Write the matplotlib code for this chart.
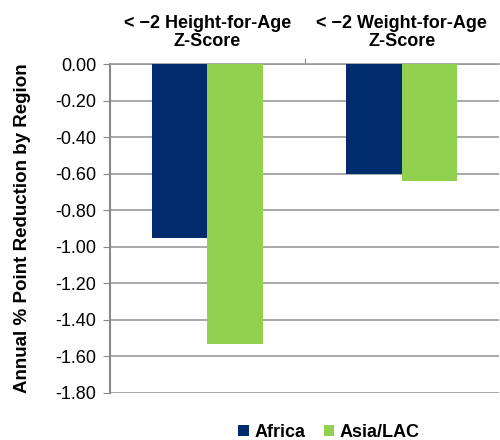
import matplotlib
matplotlib.use("Agg")
import matplotlib.pyplot as plt
import numpy as np

plt.rcParams['font.family'] = ['Liberation Sans', 'DejaVu Sans']

categories = ["< \u22122 Height-for-Age\nZ-Score", "< \u22122 Weight-for-Age\nZ-Score"]
series_names = ["Africa", "Asia/LAC"]
africa = [-0.95, -0.60]
asia_lac = [-1.53, -0.64]
yticks = [0.0, -0.2, -0.4, -0.6, -0.8, -1.0, -1.2, -1.4, -1.6, -1.8]

colors = ["#002B6D", "#92D050"]

fig = plt.figure(figsize=(5.0, 4.4), dpi=100)
ax = fig.add_axes([0.22, 0.107, 0.778, 0.7475])

x = np.arange(len(categories))
w = 0.285
ax.bar(x - w / 2, africa, w, color=colors[0], label=series_names[0], zorder=3)
ax.bar(x + w / 2, asia_lac, w, color=colors[1], label=series_names[1], zorder=3)

ax.set_xlim(-0.5, 1.5)
ax.set_ylim(-1.8, 0.0)
ax.set_yticks(yticks)
ax.set_yticklabels([f"{v:.2f}" for v in yticks], fontsize=13)
ax.yaxis.grid(True, color="#999999", linewidth=1.2, zorder=0)
ax.tick_params(axis='y', direction='out', length=5, color="#888888", pad=5)

ax.xaxis.tick_top()
ax.set_xticks([0.5])
ax.set_xticklabels([""])
ax.set_xticks(x, minor=True)
ax.set_xticklabels(categories, minor=True, fontsize=13, fontweight='bold', linespacing=1.05)
ax.tick_params(axis='x', which='major', direction='out', length=4, color="#888888")
ax.tick_params(axis='x', which='minor', length=0, pad=10)

for s in ['right', 'bottom']:
    ax.spines[s].set_visible(False)
ax.spines['top'].set_color("#999999")
ax.spines['top'].set_linewidth(1.2)
ax.spines['left'].set_color("#888888")
ax.spines['left'].set_linewidth(1.5)

ax.set_ylabel("Annual % Point Reduction by Region", fontsize=13.5, fontweight='bold', labelpad=17)

leg = ax.legend(loc='upper center', bbox_to_anchor=(0.563, -0.055), ncol=2, frameon=False,
                prop={'size': 13, 'weight': 'bold'}, handlelength=0.6, handleheight=0.6,
                handletextpad=0.3, columnspacing=1.0, borderpad=0.2)

fig.savefig("out.png", dpi=100)
